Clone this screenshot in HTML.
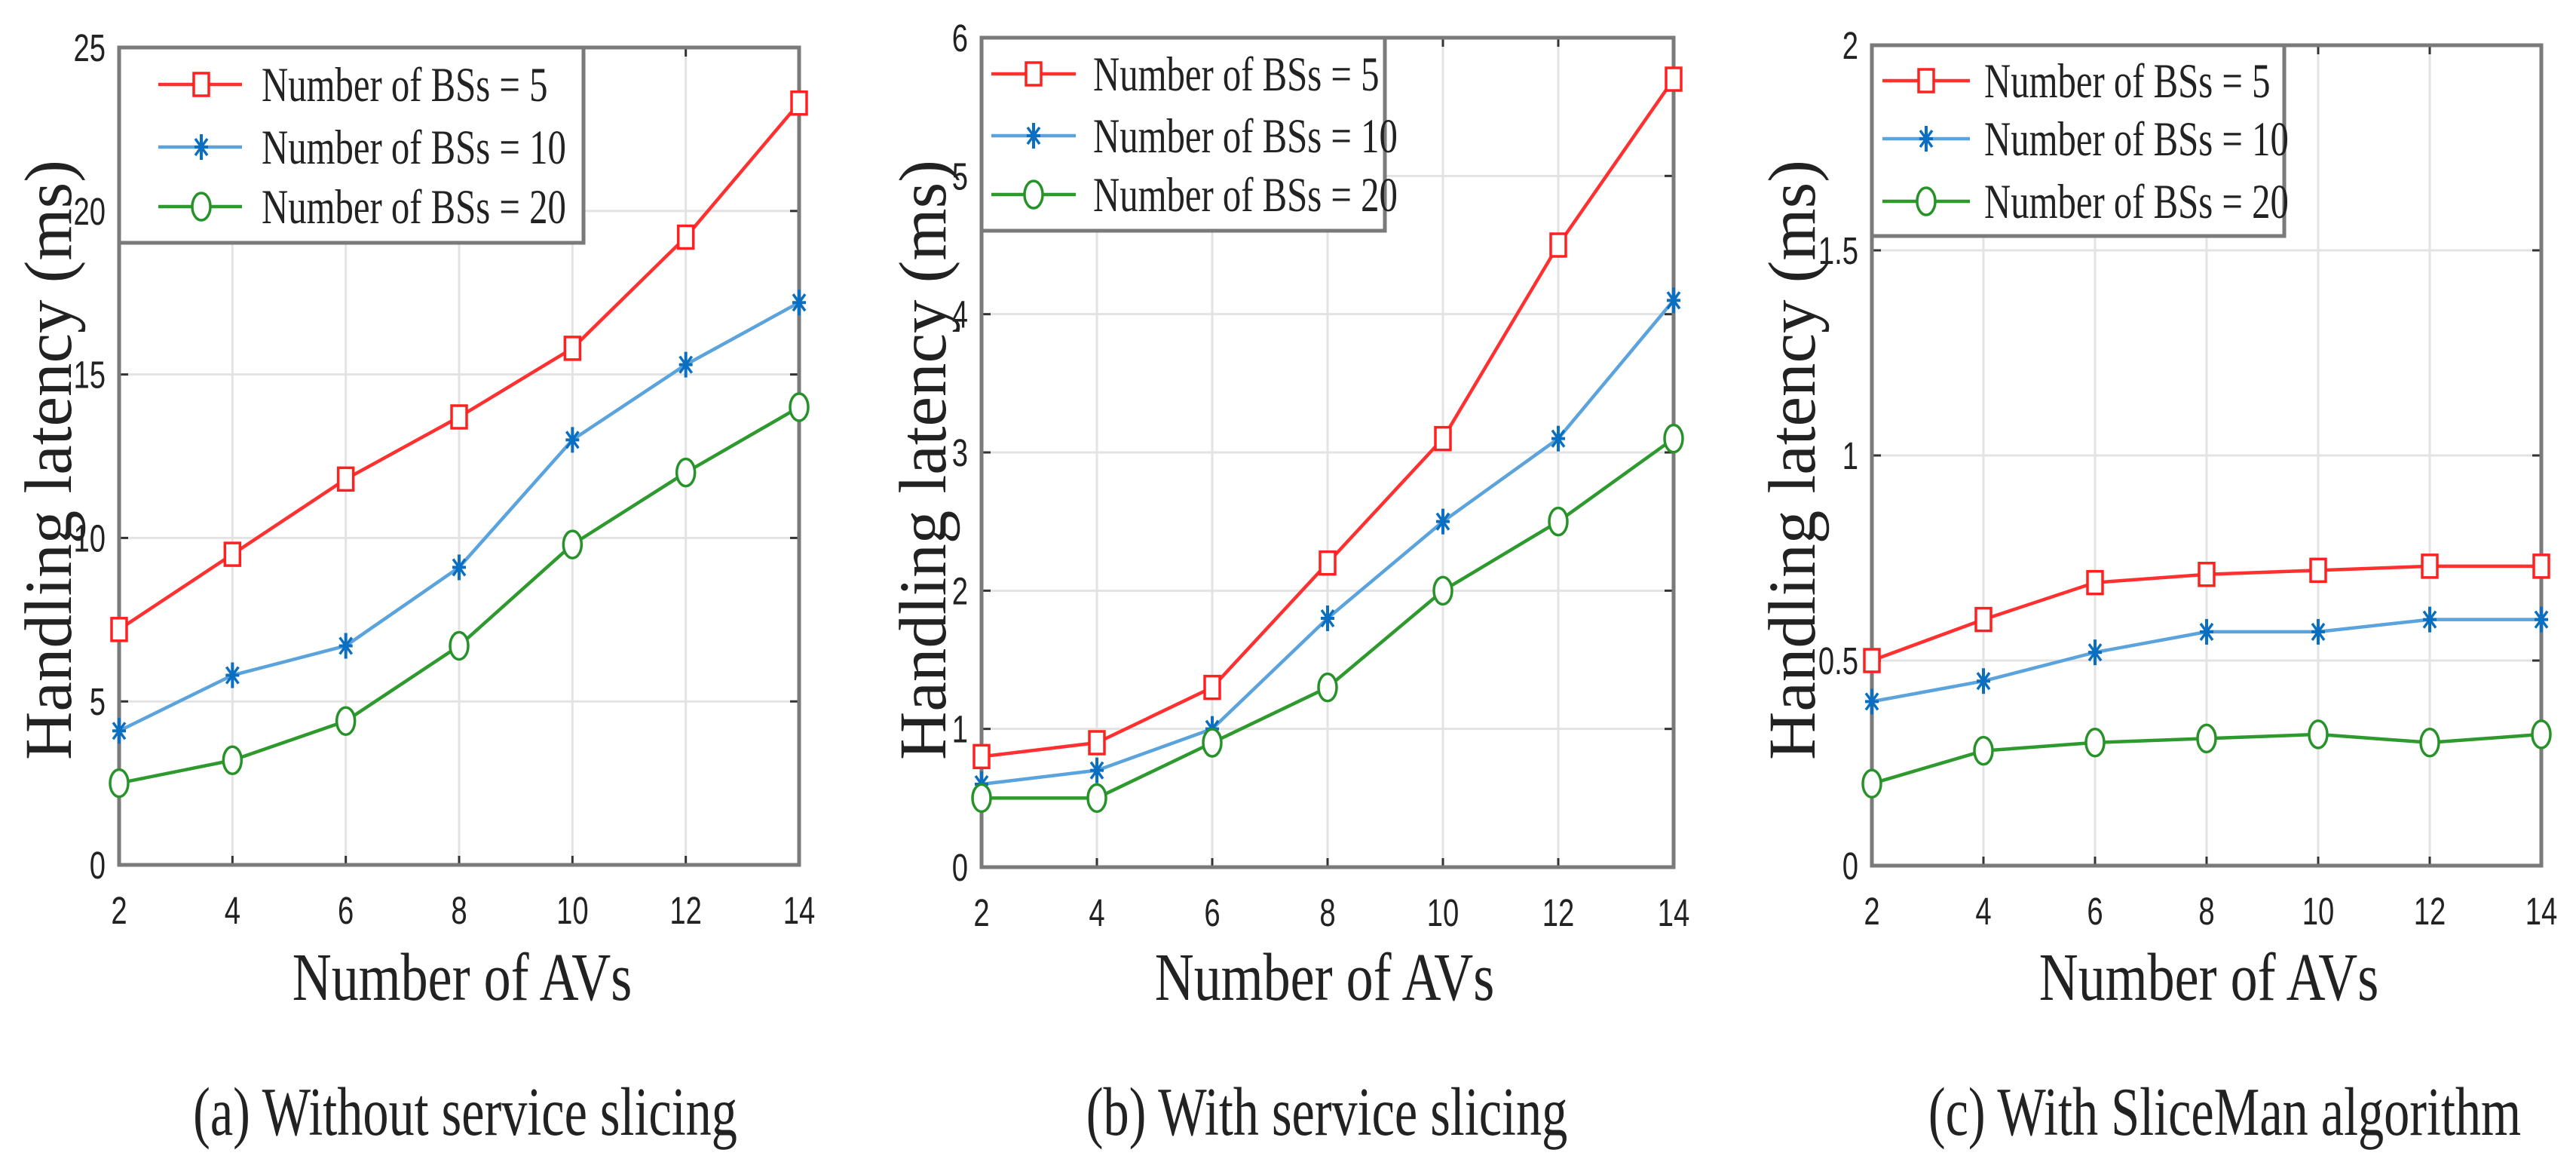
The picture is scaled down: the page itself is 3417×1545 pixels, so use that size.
<!DOCTYPE html>
<html><head><meta charset="utf-8"><style>
html,body{margin:0;padding:0;background:#fff;}
svg{display:block;}
</style></head><body>
<svg id="fig" width="3417" height="1545" viewBox="0 0 3417 1545" xmlns="http://www.w3.org/2000/svg"></svg>
<script>
const xCategories = [2,4,6,8,10,12,14];
const seriesNames = ["Number of BSs = 5","Number of BSs = 10","Number of BSs = 20"];
const aRed = [7.2,9.5,11.8,13.7,15.8,19.2,23.3];
const aBlue = [4.1,5.8,6.7,9.1,13,15.3,17.2];
const aGreen = [2.5,3.2,4.4,6.7,9.8,12,14];
const bRed = [0.8,0.9,1.3,2.2,3.1,4.5,5.7];
const bBlue = [0.6,0.7,1.0,1.8,2.5,3.1,4.1];
const bGreen = [0.5,0.5,0.9,1.3,2.0,2.5,3.1];
const cRed = [0.5,0.6,0.69,0.71,0.72,0.73,0.73];
const cBlue = [0.4,0.45,0.52,0.57,0.57,0.6,0.6];
const cGreen = [0.2,0.28,0.3,0.31,0.32,0.3,0.32];
const aTicks = [0,5,10,15,20,25];
const bTicks = [0,1,2,3,4,5,6];
const cTicks = [0,0.5,1,1.5,2];
const cTickLabels = ["0","0.5","1","1.5","2"];
const captions = ["(a) Without service slicing","(b) With service slicing","(c) With SliceMan algorithm"];

const NS="http://www.w3.org/2000/svg";
const svg=document.getElementById('fig');
function mk(tag,attrs,parent){const e=document.createElementNS(NS,tag);for(const k in attrs)e.setAttribute(k,attrs[k]);(parent||svg).appendChild(e);return e;}
const colors=[{line:"#ff3030",mark:"#ff2020"},{line:"#5aa3dc",mark:"#0a6fc0"},{line:"#2e9a2e",mark:"#28922a"}];

const panels=[
 {id:"a",L:158,R:1060,T:63,B:1147,ymax:25,ticks:aTicks,labels:aTicks.map(String),data:[aRed,aBlue,aGreen],
  leg:{R:774,B:322,rows:[112,195,274],l1:210,l2:321,m:267,tx:347},ylx:62,xlc:613,capc:617},
 {id:"b",L:1302,R:2220,T:50,B:1150,ymax:6,ticks:bTicks,labels:bTicks.map(String),data:[bRed,bBlue,bGreen],
  leg:{R:1837,B:306,rows:[98,180,258],l1:1315,l2:1427,m:1371,tx:1450},ylx:1222,xlc:1757,capc:1760},
 {id:"c",L:2483,R:3371,T:60,B:1148,ymax:2,ticks:cTicks,labels:cTickLabels,data:[cRed,cBlue,cGreen],
  leg:{R:3030,B:313,rows:[107,184,267],l1:2497,l2:2613,m:2555,tx:2632},ylx:2375,xlc:2930,capc:2951}
];

function marker(g,k,x,y){
  const c=colors[k].mark;
  if(k===0){const m=mk('rect',{x:x-10,y:y-15,width:20,height:30,fill:'#fff',stroke:c,'stroke-width':3.5},g);
    }
  else if(k===1){const m=mk('g',{},g);
    
    mk('line',{x1:x,y1:y-17,x2:x,y2:y+17,stroke:c,'stroke-width':4},m);
    mk('line',{x1:x-9,y1:y,x2:x+9,y2:y,stroke:c,'stroke-width':4},m);
    mk('line',{x1:x-8,y1:y-11,x2:x+8,y2:y+11,stroke:c,'stroke-width':3.5},m);
    mk('line',{x1:x-8,y1:y+11,x2:x+8,y2:y-11,stroke:c,'stroke-width':3.5},m);}
  else {const m=mk('ellipse',{cx:x,cy:y,rx:12,ry:18,fill:'#fff',stroke:c,'stroke-width':3.5},g);
    }
}
function txt(g,s,x,y,size,family,anchor,extra){
  const t=mk('text',{transform:`translate(${x},${y}) ${extra||'scale(0.75,1)'}`,'font-size':size,'font-family':family,'text-anchor':anchor,fill:'#222'},g);
  t.textContent=s;return t;
}
const SERIF='"Liberation Serif", serif', SANS='"Liberation Sans", sans-serif';

panels.forEach(p=>{
  const g=mk('g',{});
  
  
  const sx=v=>p.L+(v-xCategories[0])/(xCategories[xCategories.length-1]-xCategories[0])*(p.R-p.L);
  const sy=v=>p.B-v/p.ymax*(p.B-p.T);
  const grid=mk('g',{},g);
  
  
  xCategories.forEach(v=>mk('line',{x1:sx(v),y1:p.T,x2:sx(v),y2:p.B,stroke:'#e3e3e3','stroke-width':3},grid));
  p.ticks.forEach(v=>mk('line',{x1:p.L,y1:sy(v),x2:p.R,y2:sy(v),stroke:'#e3e3e3','stroke-width':3},grid));
  xCategories.forEach(v=>{mk('line',{x1:sx(v),y1:p.B,x2:sx(v),y2:p.B-12,stroke:'#333','stroke-width':3},g);mk('line',{x1:sx(v),y1:p.T,x2:sx(v),y2:p.T+12,stroke:'#333','stroke-width':3},g);});
  p.ticks.forEach(v=>{mk('line',{x1:p.L,y1:sy(v),x2:p.L+12,y2:sy(v),stroke:'#333','stroke-width':3},g);mk('line',{x1:p.R,y1:sy(v),x2:p.R-12,y2:sy(v),stroke:'#333','stroke-width':3},g);});
  const box=mk('rect',{x:p.L,y:p.T,width:p.R-p.L,height:p.B-p.T,fill:'none',stroke:'#7a7a7a','stroke-width':5},g);
  
  
  xCategories.forEach(v=>{const t=txt(g,String(v),sx(v),p.B+78,51,SANS,'middle');
    });
  p.ticks.forEach((v,i)=>{const t=txt(g,p.labels[i],p.L-18,sy(v)+18,51,SANS,'end');
    });
  p.data.forEach((arr,k)=>{
    const sg=mk('g',{},g);
    
    
    const pts=arr.map((v,i)=>sx(xCategories[i])+','+sy(v)).join(' ');
    mk('polyline',{points:pts,fill:'none',stroke:colors[k].line,'stroke-width':4.5,'stroke-linejoin':'round'},sg);
    arr.forEach((v,i)=>marker(sg,k,sx(xCategories[i]),sy(v)));
  });
  const lg=mk('g',{},g);
  
  
  mk('rect',{x:p.L,y:p.T,width:p.leg.R-p.L,height:p.leg.B-p.T,fill:'#fff',stroke:'#7a7a7a','stroke-width':5},lg);
  seriesNames.forEach((s,k)=>{
    const y=p.leg.rows[k];
    const e=mk('g',{},lg);
    
    
    mk('line',{x1:p.leg.l1,y1:y,x2:p.leg.l2,y2:y,stroke:colors[k].line,'stroke-width':4.5},e);
    marker(e,k,p.leg.m,y);
    txt(e,s,p.leg.tx,y+22,65,SERIF,'start');
  });
  const yl=txt(g,'Handling latency (ms)',p.ylx,610,89,SERIF,'middle','rotate(-90)');
  yl.setAttribute('transform',`translate(${p.ylx+32},610) rotate(-90)`);
  
  const xl=txt(g,'Number of AVs',p.xlc,1326,90,SERIF,'middle','scale(0.8,1)');
  
  const cap=txt(g,captions[panels.indexOf(p)],p.capc,1505,91,SERIF,'middle');
  
});
</script>
</body></html>
